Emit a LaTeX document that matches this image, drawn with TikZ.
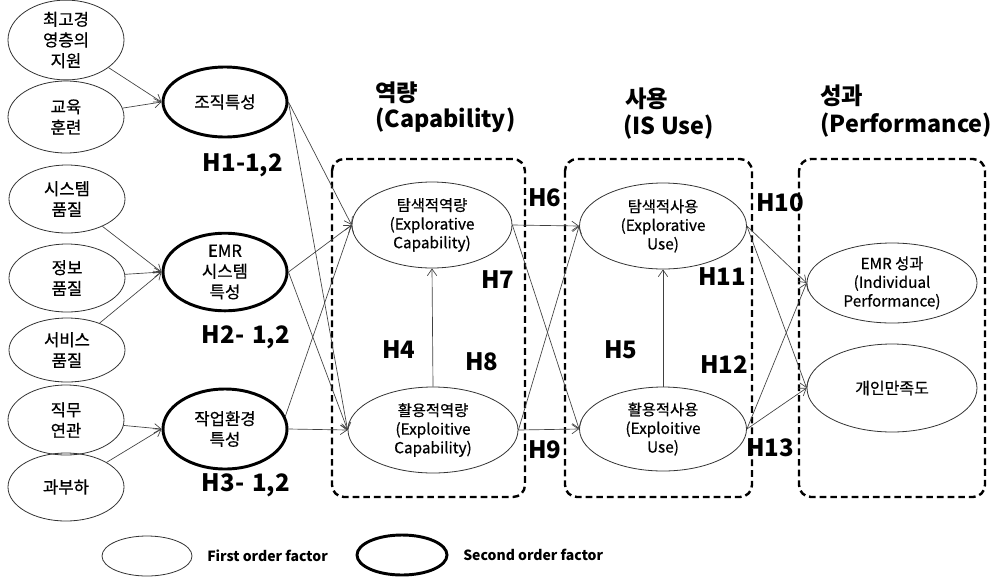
\documentclass[tikz,border=0pt]{standalone}
\usepackage{fontspec}
\setmainfont{Noto Sans CJK KR}
\newfontfamily\medkr{Noto Sans CJK KR}[FakeBold=0.6]
\usetikzlibrary{shapes.geometric,arrows.meta}
\newcommand\fsz[2]{\fontsize{#1}{#2}\selectfont}
\begin{document}
\begin{tikzpicture}[x=0.75pt,y=-0.75pt,
  sz/.style 2 args={minimum width=#1*0.75pt,minimum height=#2*0.75pt},
  fo/.style={ellipse,draw=black!80,line width=0.6pt,inner sep=0pt,align=center,font=\medkr\fsz{12.5}{15.5}},
  so/.style={ellipse,draw=black,line width=2.2pt,inner sep=0pt,align=center,font=\medkr\fsz{12.5}{15.5}},
  io/.style={ellipse,draw=black!80,line width=0.6pt,inner sep=0pt,align=center,font=\medkr\fsz{11.5}{14}},
  arr/.style={-{Straight Barb[length=5pt,width=7pt]},line width=0.5pt,draw=black!75},
  dbox/.style={draw=black,dash pattern=on 5pt off 3pt,line width=1.8pt,rounded corners=9pt},
  hyp/.style={font=\bfseries\fsz{18}{22}},
  ttl/.style={font=\bfseries\fsz{17.5}{22},anchor=base west,inner sep=0pt},
  leg/.style={font=\bfseries\fsz{10.5}{13},anchor=west,inner sep=0pt}]
\useasboundingbox (0,0) rectangle (991,579);

% dashed groups
\draw[dbox] (332,159) rectangle (525,497);
\draw[dbox] (565,159) rectangle (752,497);
\draw[dbox] (799,159) rectangle (985,497);

% titles
\node[ttl] (t1a) at (375,101) {역량};
\node[ttl] (t1b) at (375,127) {(Capability)};
\node[ttl] (t2a) at (625,107) {사용};
\node[ttl] (t2b) at (623,134) {(IS Use)};
\node[ttl] (t3a) at (820,104) {성과};
\node[ttl] (t3b) at (820,132) {(Performance)};

% first order factors
\node[fo,sz={116}{72}] (f1) at (66,40) {최고경\\영층의\\지원};
\node[fo,sz={116}{72}] (f2) at (66,117) {교육\\훈련};
\node[fo,sz={116}{68}] (f3) at (67,199) {시스템\\품질};
\node[fo,sz={116}{68}] (f4) at (67,278) {정보\\품질};
\node[fo,sz={116}{64}] (f5) at (67,350) {서비스\\품질};
\node[fo,sz={116}{70}] (f6) at (66,420) {직무\\연관};
\node[fo,sz={116}{68}] (f7) at (66,487) {과부하};

% second order factors
\node[so,sz={124}{70}] (org) at (225,102) {조직특성};
\node[so,sz={124}{76}] (emr) at (225,272) {EMR\\시스템\\특성};
\node[so,sz={124}{80}] (work) at (225,429) {작업환경\\특성};

% inner constructs
\node[io,sz={160}{86}] (xcap) at (432,225) {탐색적역량\\(Explorative\\Capability)};
\node[io,sz={170}{86}] (icap) at (433,430) {활용적역량\\(Exploitive\\Capability)};
\node[io,sz={167}{86}] (xuse) at (663,226) {탐색적사용\\(Explorative\\Use)};
\node[io,sz={167}{84}] (iuse) at (663,429) {활용적사용\\(Exploitive\\Use)};
\node[io,sz={170}{80}] (perf) at (892,283) {EMR 성과\\(Individual\\Performance)};
\node[io,sz={170}{88},font=\medkr\fsz{12}{14}] (sat) at (892,388) {개인만족도};

% connectors
\draw[arr] (f1) -- (org.west);
\draw[arr] (f2) -- (org.west);
\draw[arr] (f3) -- (emr.west);
\draw[arr] (f4) -- (emr.west);
\draw[arr] (f5) -- (emr.west);
\draw[arr] (f6) -- (work.west);
\draw[arr] (f7) -- (work.west);

\draw[arr] (org.east) -- (xcap.west);
\draw[arr] (org.east) -- (icap.west);
\draw[arr] (emr.east) -- (xcap.west);
\draw[arr] (emr.east) -- (icap.west);
\draw[arr] (work.12) -- (xcap.west);
\draw[arr] (work.east) -- (icap.west);

\draw[arr] (icap.north) -- (xcap.south);
\draw[arr] (iuse.north) -- (xuse.south);

\draw[arr] (xcap.east) -- (xuse.west);
\draw[arr] (xcap.east) -- (iuse.west);
\draw[arr] (icap.east) -- (xuse.west);
\draw[arr] (icap.east) -- (iuse.west);

\draw[arr] (xuse.east) -- (perf.west);
\draw[arr] (xuse.east) -- (sat.west);
\draw[arr] (iuse.east) -- (perf.west);
\draw[arr] (iuse.east) -- (sat.west);

% hypothesis labels
\node[hyp] (h1) at (243,165) {H1-1,2};
\node[hyp] (h2) at (246,337) {H2-\,\,1,2};
\node[hyp] (h3) at (246,485) {H3-\,\,1,2};
\node[hyp] (h4) at (399,350) {H4};
\node[hyp] (h5) at (621,350) {H5};
\node[hyp] (h6) at (545,198) {H6};
\node[hyp] (h7) at (498,280) {H7};
\node[hyp] (h8) at (482,362) {H8};
\node[hyp] (h9) at (545,450) {H9};
\node[hyp] (h10) at (780,203) {H10};
\node[hyp] (h11) at (722,277) {H11};
\node[hyp] (h12) at (724,365) {H12};
\node[hyp] (h13) at (770,448) {H13};

% legend
\node[fo,sz={90}{40}] (l1) at (147,556) {};
\node[leg] (l1t) at (207,556) {First order factor};
\node[so,sz={90}{40}] (l2) at (402,555) {};
\node[leg] (l2t) at (463,555) {Second order factor};
\end{tikzpicture}
\end{document}
